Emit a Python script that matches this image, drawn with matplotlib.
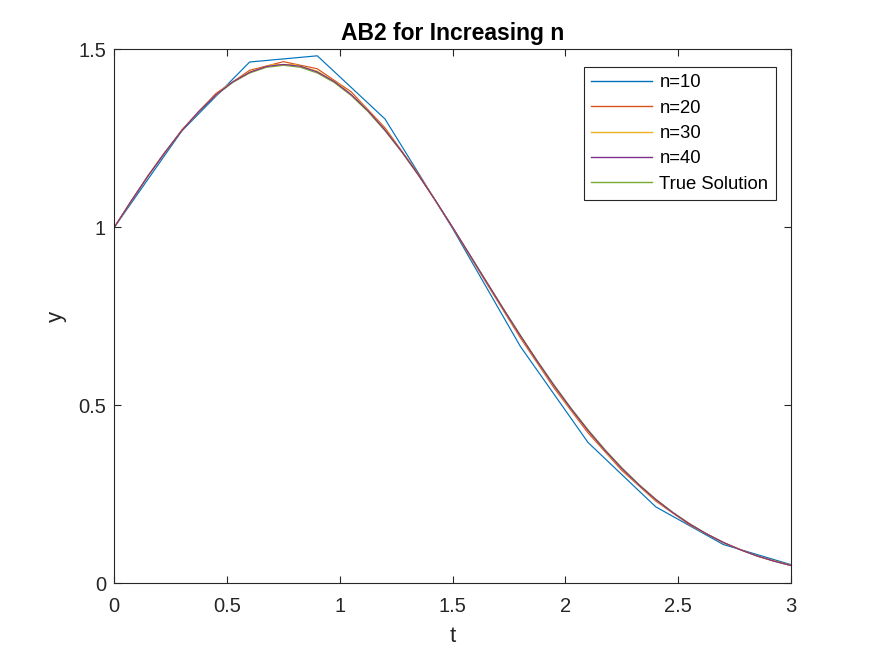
import numpy as np
import matplotlib
matplotlib.use('Agg')
import matplotlib.pyplot as plt

plt.rcParams['font.family'] = ['Liberation Sans', 'DejaVu Sans']

# AB2 solutions, one list per step count
t_10 = np.linspace(0, 3, 11)
y_10 = [1.0, 1.2712, 1.4644, 1.4818, 1.3045, 0.9967, 0.6656, 0.3958, 0.2150, 0.1090, 0.0524]

t_20 = np.linspace(0, 3, 21)
y_20 = [1.0, 1.1455, 1.2743, 1.3758, 1.4411, 1.4653, 1.4454, 1.3808, 1.2796, 1.1483,
        0.9992, 0.8431, 0.6897, 0.5483, 0.4227, 0.3172, 0.2314, 0.1643, 0.1137, 0.0764, 0.0505]

t_30 = np.linspace(0, 3, 31)
y_30 = [1.0, 1.0981, 1.1900, 1.2726, 1.3430, 1.3984, 1.4367, 1.4568, 1.4574, 1.4387,
        1.4007, 1.3452, 1.2750, 1.1916, 1.0988, 0.9996, 0.8972, 0.7946, 0.6941, 0.5987,
        0.5095, 0.4277, 0.3544, 0.2903, 0.2345, 0.1870, 0.1473, 0.1146, 0.0879, 0.0668, 0.0501]

t_40 = np.linspace(0, 3, 41)
y_40 = [1.0, 1.0740, 1.1448, 1.2113, 1.2721, 1.3259, 1.3717, 1.4084, 1.4352, 1.4518,
        1.4576, 1.4524, 1.4363, 1.4095, 1.3729, 1.3272, 1.2734, 1.2123, 1.1454, 1.0743,
        0.9998, 0.9236, 0.8467, 0.7704, 0.6957, 0.6237, 0.5549, 0.4901, 0.4294, 0.3737,
        0.3228, 0.2768, 0.2355, 0.1990, 0.1669, 0.1390, 0.1149, 0.0942, 0.0768, 0.0621, 0.0500]

# true solution sampled on the same grid as n=40
t_true = np.linspace(0, 3, 41)
y_true = [1.0, 1.0739, 1.1445, 1.2108, 1.2713, 1.3248, 1.3703, 1.4067, 1.4333, 1.4495,
          1.4550, 1.4495, 1.4333, 1.4067, 1.3703, 1.3248, 1.2713, 1.2108, 1.1445, 1.0739,
          1.0, 0.9243, 0.8479, 0.7720, 0.6977, 0.6258, 0.5571, 0.4923, 0.4317, 0.3758,
          0.3247, 0.2784, 0.2369, 0.2001, 0.1678, 0.1396, 0.1153, 0.0945, 0.0769, 0.0621, 0.0498]

# (t, y, label, colour, zorder) - true solution sits under the n=40 line as in the reference
series = [(t_10, y_10, 'n=10', '#0072BD', 2.0),
          (t_20, y_20, 'n=20', '#D95319', 2.0),
          (t_30, y_30, 'n=30', '#EDB120', 2.0),
          (t_40, y_40, 'n=40', '#7E2F8E', 2.0),
          (t_true, y_true, 'True Solution', '#77AC30', 1.9)]

fig = plt.figure(figsize=(8.75, 6.56), dpi=100)
ax = fig.add_axes([0.1306, 0.1108, 0.904 - 0.1306, 0.9248 - 0.1108])

for t, y, label, color, z in series:
    ax.plot(t, y, color=color, linewidth=0.85, label=label, zorder=z)

ax.set_xlim(0, 3)
ax.set_ylim(0, 1.5)
ax.set_xticks([0, 0.5, 1, 1.5, 2, 2.5, 3])
ax.set_xticklabels(['0', '0.5', '1', '1.5', '2', '2.5', '3'])
ax.set_yticks([0, 0.5, 1, 1.5])
ax.set_yticklabels(['0', '0.5', '1', '1.5'])

axcol = '#262626'
for s in ax.spines.values():
    s.set_color(axcol)
    s.set_linewidth(0.8)
ax.tick_params(direction='in', length=5, width=0.8, colors=axcol, labelsize=14.5,
               top=True, right=True)
ax.tick_params(axis='x', pad=10)
ax.tick_params(axis='y', pad=6)

ax.set_xlabel('t', fontsize=16, color=axcol, labelpad=7)
ax.set_ylabel('y', fontsize=16, color=axcol, labelpad=8)
ax.set_title('AB2 for Increasing n', fontsize=16.5, fontweight='bold', pad=6.7)

leg = ax.legend(loc='upper right', bbox_to_anchor=(0.9774, 0.967), borderaxespad=0,
                fontsize=13.3, handlelength=3.3, handletextpad=0.4, labelspacing=0.45,
                borderpad=0.4, fancybox=False, framealpha=1)
leg.get_frame().set_edgecolor(axcol)
leg.get_frame().set_linewidth(0.8)
for line in leg.get_lines():
    line.set_linewidth(1.0)

fig.savefig('out.png', dpi=100)
